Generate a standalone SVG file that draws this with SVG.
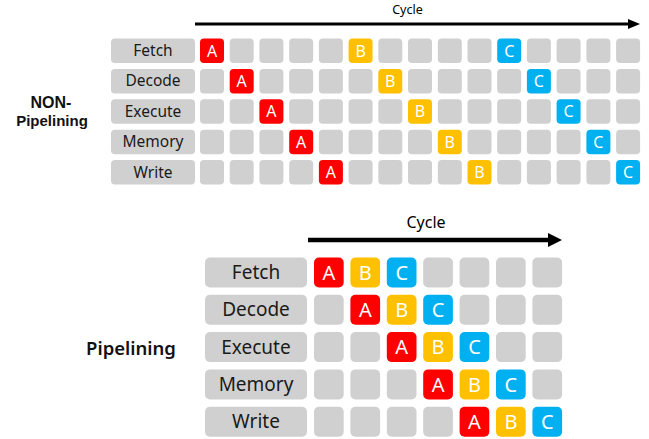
<svg xmlns="http://www.w3.org/2000/svg" width="649" height="439" viewBox="0 0 649 439">
  <style>
    text { font-family: "Noto Sans", "Open Sans", sans-serif; text-anchor: middle; }
    .stage { fill: #d0d0d0; }
    .cell { fill: #d0d0d0; }
    .a { fill: #ff0000; }
    .b { fill: #ffc000; }
    .c { fill: #00b0f0; }
    .lbl1 { font-size: 15.5px; fill: #1a1a1a; }
    .lbl2 { font-size: 19px; fill: #1a1a1a; }
    .ltr1 { font-size: 16px; fill: #ffffff; }
    .ltr2 { font-size: 20px; fill: #ffffff; }
    .title { font-weight: 600; fill: #111111; }
    .title-s { font-family: "Liberation Sans", Arial, sans-serif; font-weight: bold; fill: #111111; }
    .axis { stroke: #000000; fill: none; }
  </style>

  <defs>
    <rect id="c1" width="24" height="24.5" rx="4"/>
    <rect id="c2" width="29.7" height="30" rx="5"/>
  </defs>

  <!-- Non-pipelined schedule title -->
  <g id="non-pipelining">
    <text class="title-s" x="51" y="108.2" font-size="16">NON-</text>
    <text class="title-s" x="52" y="126.2" font-size="15">Pipelining</text>
  </g>

  <!-- cycle axes -->
  <g id="connectors">
    <line class="axis" x1="195" y1="24" x2="630" y2="24" stroke-width="3"/>
    <polygon points="628,19 640,24 628,29" fill="#000"/>
    <line class="axis" x1="308" y1="240" x2="550" y2="240" stroke-width="4.5"/>
    <polygon points="548,233 562,240 548,247" fill="#000"/>
  </g>

  <text id="cycle-top" x="407.5" y="14" font-size="12.5">Cycle</text>

  <!-- stage labels, top -->
  <g id="top-fetch"><rect class="stage" x="111" y="38.5" width="84" height="24.5" rx="4"/><text class="lbl1" x="153" y="56">Fetch</text></g>
  <g id="top-decode"><rect class="stage" x="111" y="68.9" width="84" height="24.5" rx="4"/><text class="lbl1" x="153" y="86.4">Decode</text></g>
  <g id="top-execute"><rect class="stage" x="111" y="99.3" width="84" height="24.5" rx="4"/><text class="lbl1" x="153" y="116.8">Execute</text></g>
  <g id="top-memory"><rect class="stage" x="111" y="129.7" width="84" height="24.5" rx="4"/><text class="lbl1" x="153" y="147.2">Memory</text></g>
  <g id="top-write"><rect class="stage" x="111" y="160.1" width="84" height="24.5" rx="4"/><text class="lbl1" x="153" y="177.6">Write</text></g>

  <!-- top grid: 15 cycles x 5 stages -->
  <g id="top-grid">
    <!-- row 0 -->
    <use href="#c1" class="a" x="200" y="38.5"/>
    <use href="#c1" class="cell" x="229.7" y="38.5"/>
    <use href="#c1" class="cell" x="259.4" y="38.5"/>
    <use href="#c1" class="cell" x="289.2" y="38.5"/>
    <use href="#c1" class="cell" x="318.9" y="38.5"/>
    <use href="#c1" class="b" x="348.6" y="38.5"/>
    <use href="#c1" class="cell" x="378.3" y="38.5"/>
    <use href="#c1" class="cell" x="408" y="38.5"/>
    <use href="#c1" class="cell" x="437.8" y="38.5"/>
    <use href="#c1" class="cell" x="467.5" y="38.5"/>
    <use href="#c1" class="c" x="497.2" y="38.5"/>
    <use href="#c1" class="cell" x="526.9" y="38.5"/>
    <use href="#c1" class="cell" x="556.6" y="38.5"/>
    <use href="#c1" class="cell" x="586.4" y="38.5"/>
    <use href="#c1" class="cell" x="616.1" y="38.5"/>
    <!-- row 1 -->
    <use href="#c1" class="cell" x="200" y="68.9"/>
    <use href="#c1" class="a" x="229.7" y="68.9"/>
    <use href="#c1" class="cell" x="259.4" y="68.9"/>
    <use href="#c1" class="cell" x="289.2" y="68.9"/>
    <use href="#c1" class="cell" x="318.9" y="68.9"/>
    <use href="#c1" class="cell" x="348.6" y="68.9"/>
    <use href="#c1" class="b" x="378.3" y="68.9"/>
    <use href="#c1" class="cell" x="408" y="68.9"/>
    <use href="#c1" class="cell" x="437.8" y="68.9"/>
    <use href="#c1" class="cell" x="467.5" y="68.9"/>
    <use href="#c1" class="cell" x="497.2" y="68.9"/>
    <use href="#c1" class="c" x="526.9" y="68.9"/>
    <use href="#c1" class="cell" x="556.6" y="68.9"/>
    <use href="#c1" class="cell" x="586.4" y="68.9"/>
    <use href="#c1" class="cell" x="616.1" y="68.9"/>
    <!-- row 2 -->
    <use href="#c1" class="cell" x="200" y="99.3"/>
    <use href="#c1" class="cell" x="229.7" y="99.3"/>
    <use href="#c1" class="a" x="259.4" y="99.3"/>
    <use href="#c1" class="cell" x="289.2" y="99.3"/>
    <use href="#c1" class="cell" x="318.9" y="99.3"/>
    <use href="#c1" class="cell" x="348.6" y="99.3"/>
    <use href="#c1" class="cell" x="378.3" y="99.3"/>
    <use href="#c1" class="b" x="408" y="99.3"/>
    <use href="#c1" class="cell" x="437.8" y="99.3"/>
    <use href="#c1" class="cell" x="467.5" y="99.3"/>
    <use href="#c1" class="cell" x="497.2" y="99.3"/>
    <use href="#c1" class="cell" x="526.9" y="99.3"/>
    <use href="#c1" class="c" x="556.6" y="99.3"/>
    <use href="#c1" class="cell" x="586.4" y="99.3"/>
    <use href="#c1" class="cell" x="616.1" y="99.3"/>
    <!-- row 3 -->
    <use href="#c1" class="cell" x="200" y="129.7"/>
    <use href="#c1" class="cell" x="229.7" y="129.7"/>
    <use href="#c1" class="cell" x="259.4" y="129.7"/>
    <use href="#c1" class="a" x="289.2" y="129.7"/>
    <use href="#c1" class="cell" x="318.9" y="129.7"/>
    <use href="#c1" class="cell" x="348.6" y="129.7"/>
    <use href="#c1" class="cell" x="378.3" y="129.7"/>
    <use href="#c1" class="cell" x="408" y="129.7"/>
    <use href="#c1" class="b" x="437.8" y="129.7"/>
    <use href="#c1" class="cell" x="467.5" y="129.7"/>
    <use href="#c1" class="cell" x="497.2" y="129.7"/>
    <use href="#c1" class="cell" x="526.9" y="129.7"/>
    <use href="#c1" class="cell" x="556.6" y="129.7"/>
    <use href="#c1" class="c" x="586.4" y="129.7"/>
    <use href="#c1" class="cell" x="616.1" y="129.7"/>
    <!-- row 4 -->
    <use href="#c1" class="cell" x="200" y="160.1"/>
    <use href="#c1" class="cell" x="229.7" y="160.1"/>
    <use href="#c1" class="cell" x="259.4" y="160.1"/>
    <use href="#c1" class="cell" x="289.2" y="160.1"/>
    <use href="#c1" class="a" x="318.9" y="160.1"/>
    <use href="#c1" class="cell" x="348.6" y="160.1"/>
    <use href="#c1" class="cell" x="378.3" y="160.1"/>
    <use href="#c1" class="cell" x="408" y="160.1"/>
    <use href="#c1" class="cell" x="437.8" y="160.1"/>
    <use href="#c1" class="b" x="467.5" y="160.1"/>
    <use href="#c1" class="cell" x="497.2" y="160.1"/>
    <use href="#c1" class="cell" x="526.9" y="160.1"/>
    <use href="#c1" class="cell" x="556.6" y="160.1"/>
    <use href="#c1" class="cell" x="586.4" y="160.1"/>
    <use href="#c1" class="c" x="616.1" y="160.1"/>
    <!-- letters -->
    <text class="ltr1" x="212" y="56.5">A</text>
    <text class="ltr1" x="360.6" y="56.5">B</text>
    <text class="ltr1" x="509.2" y="56.5">C</text>
    <text class="ltr1" x="241.7" y="86.9">A</text>
    <text class="ltr1" x="390.3" y="86.9">B</text>
    <text class="ltr1" x="538.9" y="86.9">C</text>
    <text class="ltr1" x="271.4" y="117.3">A</text>
    <text class="ltr1" x="420" y="117.3">B</text>
    <text class="ltr1" x="568.6" y="117.3">C</text>
    <text class="ltr1" x="301.2" y="147.7">A</text>
    <text class="ltr1" x="449.8" y="147.7">B</text>
    <text class="ltr1" x="598.4" y="147.7">C</text>
    <text class="ltr1" x="330.9" y="178.1">A</text>
    <text class="ltr1" x="479.5" y="178.1">B</text>
    <text class="ltr1" x="628.1" y="178.1">C</text>
  </g>

  <!-- Pipelined schedule -->
  <text id="cycle-bottom" x="426" y="228" font-size="16">Cycle</text>
  <g id="pipelining">
    <text class="title" x="131" y="354.5" font-size="18.5">Pipelining</text>
  </g>

  <g id="bot-fetch"><rect class="stage" x="205" y="257.5" width="102" height="30" rx="5"/><text class="lbl2" x="256" y="279">Fetch</text></g>
  <g id="bot-decode"><rect class="stage" x="205" y="294.8" width="102" height="30" rx="5"/><text class="lbl2" x="256" y="316.3">Decode</text></g>
  <g id="bot-execute"><rect class="stage" x="205" y="332.1" width="102" height="30" rx="5"/><text class="lbl2" x="256" y="353.6">Execute</text></g>
  <g id="bot-memory"><rect class="stage" x="205" y="369.4" width="102" height="30" rx="5"/><text class="lbl2" x="256" y="390.9">Memory</text></g>
  <g id="bot-write"><rect class="stage" x="205" y="406.7" width="102" height="30" rx="5"/><text class="lbl2" x="256" y="428.2">Write</text></g>

  <!-- bottom grid: 7 cycles x 5 stages -->
  <g id="bot-grid">
    <!-- row 0 -->
    <use href="#c2" class="a" x="314" y="257.5"/>
    <use href="#c2" class="b" x="350.4" y="257.5"/>
    <use href="#c2" class="c" x="386.8" y="257.5"/>
    <use href="#c2" class="cell" x="423.2" y="257.5"/>
    <use href="#c2" class="cell" x="459.6" y="257.5"/>
    <use href="#c2" class="cell" x="496" y="257.5"/>
    <use href="#c2" class="cell" x="532.4" y="257.5"/>
    <!-- row 1 -->
    <use href="#c2" class="cell" x="314" y="294.8"/>
    <use href="#c2" class="a" x="350.4" y="294.8"/>
    <use href="#c2" class="b" x="386.8" y="294.8"/>
    <use href="#c2" class="c" x="423.2" y="294.8"/>
    <use href="#c2" class="cell" x="459.6" y="294.8"/>
    <use href="#c2" class="cell" x="496" y="294.8"/>
    <use href="#c2" class="cell" x="532.4" y="294.8"/>
    <!-- row 2 -->
    <use href="#c2" class="cell" x="314" y="332.1"/>
    <use href="#c2" class="cell" x="350.4" y="332.1"/>
    <use href="#c2" class="a" x="386.8" y="332.1"/>
    <use href="#c2" class="b" x="423.2" y="332.1"/>
    <use href="#c2" class="c" x="459.6" y="332.1"/>
    <use href="#c2" class="cell" x="496" y="332.1"/>
    <use href="#c2" class="cell" x="532.4" y="332.1"/>
    <!-- row 3 -->
    <use href="#c2" class="cell" x="314" y="369.4"/>
    <use href="#c2" class="cell" x="350.4" y="369.4"/>
    <use href="#c2" class="cell" x="386.8" y="369.4"/>
    <use href="#c2" class="a" x="423.2" y="369.4"/>
    <use href="#c2" class="b" x="459.6" y="369.4"/>
    <use href="#c2" class="c" x="496" y="369.4"/>
    <use href="#c2" class="cell" x="532.4" y="369.4"/>
    <!-- row 4 -->
    <use href="#c2" class="cell" x="314" y="406.7"/>
    <use href="#c2" class="cell" x="350.4" y="406.7"/>
    <use href="#c2" class="cell" x="386.8" y="406.7"/>
    <use href="#c2" class="cell" x="423.2" y="406.7"/>
    <use href="#c2" class="a" x="459.6" y="406.7"/>
    <use href="#c2" class="b" x="496" y="406.7"/>
    <use href="#c2" class="c" x="532.4" y="406.7"/>
    <!-- letters -->
    <text class="ltr2" x="328.9" y="279.6">A</text>
    <text class="ltr2" x="365.3" y="279.6">B</text>
    <text class="ltr2" x="401.7" y="279.6">C</text>
    <text class="ltr2" x="365.3" y="316.9">A</text>
    <text class="ltr2" x="401.7" y="316.9">B</text>
    <text class="ltr2" x="438.1" y="316.9">C</text>
    <text class="ltr2" x="401.7" y="354.2">A</text>
    <text class="ltr2" x="438.1" y="354.2">B</text>
    <text class="ltr2" x="474.5" y="354.2">C</text>
    <text class="ltr2" x="438.1" y="391.5">A</text>
    <text class="ltr2" x="474.5" y="391.5">B</text>
    <text class="ltr2" x="510.9" y="391.5">C</text>
    <text class="ltr2" x="474.5" y="428.8">A</text>
    <text class="ltr2" x="510.9" y="428.8">B</text>
    <text class="ltr2" x="547.3" y="428.8">C</text>
  </g>
</svg>
